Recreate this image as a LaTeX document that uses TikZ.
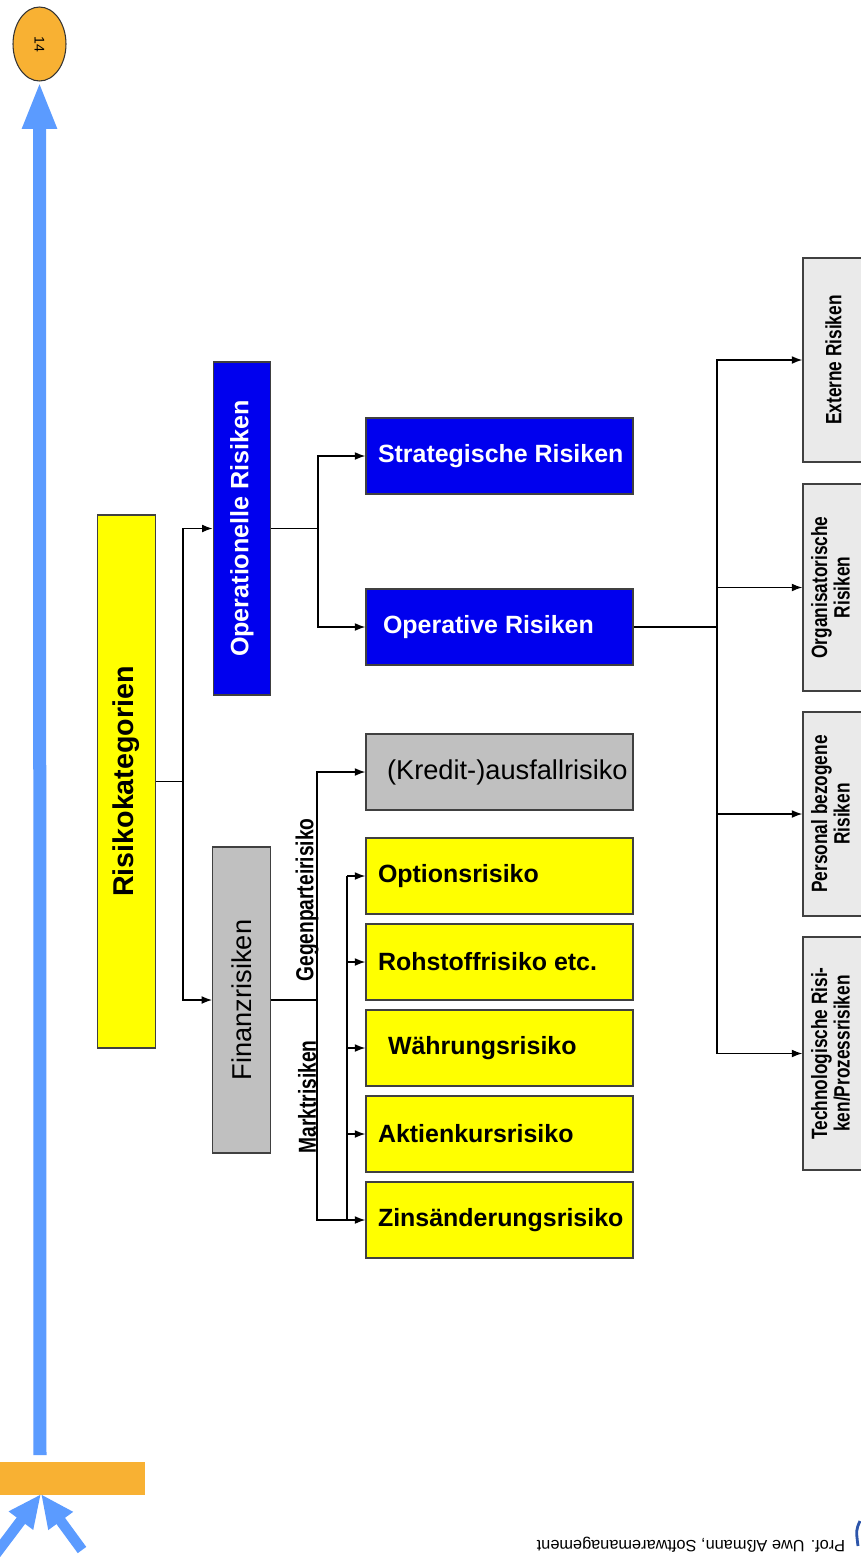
\documentclass[tikz,border=0pt]{standalone}
\usepackage{fontspec}
\setmainfont{Liberation Sans}
\newfontfamily\narrowfont{Liberation Sans}[FakeStretch=0.78]
\usepackage{graphicx}
\usepackage{tikz}
\usetikzlibrary{arrows.meta,shapes.geometric}

\definecolor{riskyellow}{RGB}{255,255,0}
\definecolor{riskblue}{RGB}{0,0,238}
\definecolor{riskgray}{RGB}{192,192,192}
\definecolor{risklight}{RGB}{234,234,234}
\definecolor{slideblue}{RGB}{91,155,255}
\definecolor{slideorange}{RGB}{248,177,51}
\definecolor{markblue}{RGB}{45,85,170}

\newcommand{\rowtext}[2][0cm]{\makebox[5.34cm][l]{\hspace*{0.24cm}\hspace*{#1}#2}}

\tikzset{
	riskbox/.style={draw=black!75, line width=0.8pt, inner sep=0pt},
	tallbox/.style={riskbox, minimum width=1.15cm},
	rowbox/.style={riskbox, minimum width=5.34cm, minimum height=1.52cm, font=\bfseries\fontsize{14.2}{16}\selectfont},
	sidebox/.style={riskbox, fill=risklight, minimum width=1.22cm, font=\narrowfont\bfseries\fontsize{12.6}{12}\selectfont},
	branchlabel/.style={rotate=90, inner sep=0pt, font=\narrowfont\bfseries\fontsize{14}{16}\selectfont},
	link/.style={draw=black, line width=0.75pt},
	linkarrow/.style={link, -{Latex[length=6pt,width=4.5pt]}},
}

\begin{document}
\begin{tikzpicture}[x=0.02cm, y=-0.02cm]
			\useasboundingbox[fill=white] (0,0) rectangle (861,1563);
			% slide decoration
			\node[draw=black!80, fill=slideorange, ellipse, line width=0.6pt, inner sep=0pt,
				minimum width=1.06cm, minimum height=1.48cm, font=\fontsize{8}{9}\selectfont] (page) at (39.5,44) {\rotatebox{-90}{14}};
			\node[fill=slideorange, minimum width=2.9cm, minimum height=0.66cm, inner sep=0pt] (bar) at (72.5,1478.5) {};
			\coordinate (stembase) at (40,1455);
			\coordinate (hit) at (41,1494);
			\coordinate (lefttail) at (-8,1559);
			\coordinate (righttail) at (82,1550);
			\draw[slideblue, line width=7.4pt, -{Triangle[length=27pt,width=18pt]}] (stembase) -- (page.south);
			\draw[slideblue, line width=6pt, -{Triangle[length=19pt,width=16pt]}] (lefttail) -- (hit);
			\draw[slideblue, line width=6pt, -{Triangle[length=19pt,width=16pt]}] (righttail) -- (hit);
			\node[rotate=180, inner sep=0pt, font=\fontsize{9.3}{11}\selectfont] (footer) at (691,1545) {Prof. Uwe Aßmann, Softwaremanagement};
			\draw[markblue, line width=1.6pt] (860,1521) .. controls (856,1530) .. (858,1546);

			% first level
			\node[tallbox, fill=riskyellow, minimum height=10.66cm, font=\bfseries\fontsize{16.3}{18}\selectfont] (kat) at (126.5,781.5) {\rotatebox{90}{Risikokategorien}};
			\node[tallbox, fill=riskblue, text=white, minimum height=6.66cm, font=\bfseries\fontsize{14.3}{16}\selectfont] (oper) at (242,528.5) {\rotatebox{90}{Operationelle Risiken}};
			\node[tallbox, fill=riskgray, minimum height=6.12cm, font=\fontsize{15.5}{17}\selectfont] (fin) at (241.5,1000) {\rotatebox{90}{Finanzrisiken}};

			% second level
			\node[rowbox, fill=riskblue, text=white] (strat) at (499.5,456) {\rowtext{Strategische Risiken}};
			\node[rowbox, fill=riskblue, text=white] (operativ) at (499.5,627) {\rowtext[0.1cm]{Operative Risiken}};
			\node[rowbox, fill=riskgray, font=\fontsize{15.5}{17}\selectfont] (kredit) at (499.5,772) {\rowtext[0.18cm]{(Kredit-)ausfallrisiko}};
			\node[rowbox, fill=riskyellow] (optionen) at (499.5,876) {\rowtext{Optionsrisiko}};
			\node[rowbox, fill=riskyellow] (rohstoff) at (499.5,962) {\rowtext{Rohstoffrisiko etc.}};
			\node[rowbox, fill=riskyellow] (waehrung) at (499.5,1048) {\rowtext[0.2cm]{Währungsrisiko}};
			\node[rowbox, fill=riskyellow] (aktien) at (499.5,1134) {\rowtext{Aktienkursrisiko}};
			\node[rowbox, fill=riskyellow] (zins) at (499.5,1220) {\rowtext{Zinsänderungsrisiko}};

			\node[branchlabel] (gegen) at (307,900) {Gegenparteirisiko};
			\node[branchlabel] (markt) at (307,1097) {Marktrisiken};

			% third level
			\node[sidebox, minimum height=4.08cm] (extern) at (833.5,360) {\rotatebox{90}{Externe Risiken}\hspace{0.3cm}};
			\node[sidebox, minimum height=4.14cm] (orga) at (833.5,587.5) {\rotatebox{90}{\begin{tabular}{@{}c@{}}Organisatorische\\Risiken\end{tabular}}};
			\node[sidebox, minimum height=4.08cm] (personal) at (833.5,814) {\rotatebox{90}{\begin{tabular}{@{}c@{}}Personal bezogene\\Risiken\end{tabular}}};
			\node[sidebox, minimum height=4.66cm] (techno) at (833.5,1053.5) {\rotatebox{90}{\begin{tabular}{@{}c@{}}Technologische Risi-\\ken/Prozessrisiken\end{tabular}}};

			% connections
			\coordinate (katfork) at (183,781.5);
			\draw[link] (kat.east) -- (katfork);
			\draw[linkarrow] (katfork) |- (oper.west);
			\draw[linkarrow] (katfork) |- (fin.west);

			\coordinate (operfork) at (318,528.5);
			\draw[link] (oper.east) -- (operfork);
			\draw[linkarrow] (operfork) |- (strat.west);
			\draw[linkarrow] (operfork) |- (operativ.west);

			\coordinate (finfork) at (317,1000);
			\coordinate (marktbus) at (347,0);
			\draw[link] (fin.east) -- (finfork);
			\draw[linkarrow] (finfork) |- (kredit.west);
			\draw[linkarrow] (finfork) |- (zins.west);
			\draw[link] (optionen.west -| marktbus) -- (zins.west -| marktbus);
			\draw[linkarrow] (optionen.west -| marktbus) -- (optionen.west);
			\draw[linkarrow] (rohstoff.west -| marktbus) -- (rohstoff.west);
			\draw[linkarrow] (waehrung.west -| marktbus) -- (waehrung.west);
			\draw[linkarrow] (aktien.west -| marktbus) -- (aktien.west);

			\coordinate (opfork) at (717,627);
			\draw[link] (operativ.east) -- (opfork);
			\draw[linkarrow] (opfork) |- (extern.west);
			\draw[linkarrow] (opfork) |- (orga.west);
			\draw[linkarrow] (opfork) |- (personal.west);
			\draw[linkarrow] (opfork) |- (techno.west);
\end{tikzpicture}
\end{document}
